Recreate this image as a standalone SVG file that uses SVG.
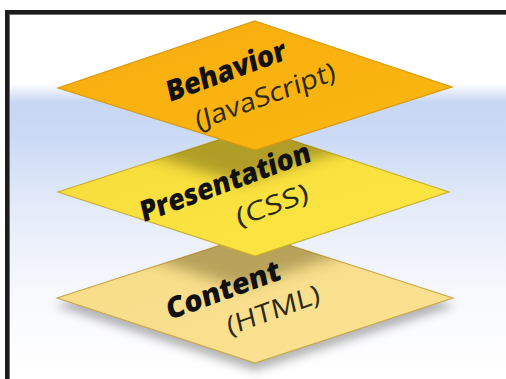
<svg xmlns="http://www.w3.org/2000/svg" width="506" height="379" viewBox="0 0 506 379">
<defs>
<linearGradient id="bg" x1="0" y1="0" x2="0" y2="1">
<stop offset="0" stop-color="#ffffff"/>
<stop offset="0.22" stop-color="#ffffff"/>
<stop offset="0.27" stop-color="#c6d6f4"/>
<stop offset="0.36" stop-color="#cbdaf5"/>
<stop offset="0.55" stop-color="#e4ebf9"/>
<stop offset="0.78" stop-color="#f8f9fd"/>
<stop offset="1" stop-color="#ffffff"/>
</linearGradient>
<linearGradient id="gB" x1="0" y1="0" x2="1" y2="1">
<stop offset="0" stop-color="#f7ad10"/>
<stop offset="1" stop-color="#fbb70f"/>
</linearGradient>
<linearGradient id="gP" x1="0" y1="0" x2="1" y2="1">
<stop offset="0" stop-color="#f5dc3c"/>
<stop offset="1" stop-color="#fde642"/>
</linearGradient>
<linearGradient id="gC" x1="0" y1="0" x2="1" y2="1">
<stop offset="0" stop-color="#f6dc88"/>
<stop offset="1" stop-color="#fbe292"/>
</linearGradient>
<filter id="blur" x="-20%" y="-40%" width="140%" height="180%">
<feGaussianBlur stdDeviation="5"/>
</filter>
<filter id="blur2" x="-20%" y="-40%" width="140%" height="180%">
<feGaussianBlur stdDeviation="7"/>
</filter>
<clipPath id="clipP"><polygon points="255,128 449,192 255,256 58,192"/></clipPath>
<clipPath id="clipC"><polygon points="255,234 453,298 255,363 57,298"/></clipPath>
</defs>
<style>
.lbl{font-family:"Open Sans","Noto Sans","Liberation Sans",sans-serif;fill:#111;text-anchor:middle;dominant-baseline:central}
.b{font-weight:800;font-size:29px}
.r{font-weight:400;font-size:26px;fill:#2a2a18}
.edge{stroke-width:1.2;stroke-linejoin:miter}
</style>
<rect x="0" y="0" width="506" height="379" fill="url(#bg)"/>
<rect x="0" y="0" width="506" height="10" fill="#ffffff"/>
<rect x="0" y="0" width="5" height="379" fill="#ffffff"/>
<g id="frame">
<rect x="5" y="10" width="501" height="4" fill="#1c1c1c"/>
<rect x="9" y="14" width="497" height="1" fill="#6f6f6f"/>
<rect x="5" y="10" width="4" height="369" fill="#1c1c1c"/>
<rect x="9" y="14" width="1" height="365" fill="#6f6f6f"/>
</g>
<g id="connectors"/>
<g id="content">
<polygon points="255,242 455,306 255,371 55,306" fill="#7a7a7a" opacity="0.55" filter="url(#blur)"/>
<polygon points="255,234 453,298 255,363 57,298" fill="url(#gC)" stroke="#c9a94e" class="edge"/>
<g clip-path="url(#clipC)">
<polygon points="240,160 434,224 240,288 43,224" fill="#6b5a20" opacity="0.45" filter="url(#blur2)"/>
</g>
<text class="lbl b" transform="translate(223,289) rotate(-20) skewX(-7)" textLength="120" lengthAdjust="spacingAndGlyphs">Content</text>
<text class="lbl r" transform="translate(273,309) rotate(-20) skewX(-7)" textLength="98" lengthAdjust="spacingAndGlyphs">(HTML)</text>
</g>
<g id="presentation">
<polygon points="255,128 449,192 255,256 58,192" fill="url(#gP)" stroke="#c9b030" class="edge"/>
<g clip-path="url(#clipP)">
<polygon points="240,54 437,120 240,183 43,121" fill="#5a5010" opacity="0.45" filter="url(#blur2)"/>
</g>
<text class="lbl b" transform="translate(225,181) rotate(-20) skewX(-7)" textLength="180" lengthAdjust="spacingAndGlyphs">Presentation</text>
<text class="lbl r" transform="translate(272,204) rotate(-20) skewX(-7)" textLength="76" lengthAdjust="spacingAndGlyphs">(CSS)</text>
</g>
<g id="behavior">
<polygon points="255,21 452,87 255,150 58,88" fill="url(#gB)" stroke="#d99a10" class="edge"/>
<text class="lbl b" transform="translate(226,70) rotate(-20) skewX(-7)" textLength="126" lengthAdjust="spacingAndGlyphs">Behavior</text>
<text class="lbl r" transform="translate(265,95) rotate(-20) skewX(-7)" textLength="148" lengthAdjust="spacingAndGlyphs">(JavaScript)</text>
</g>
</svg>
